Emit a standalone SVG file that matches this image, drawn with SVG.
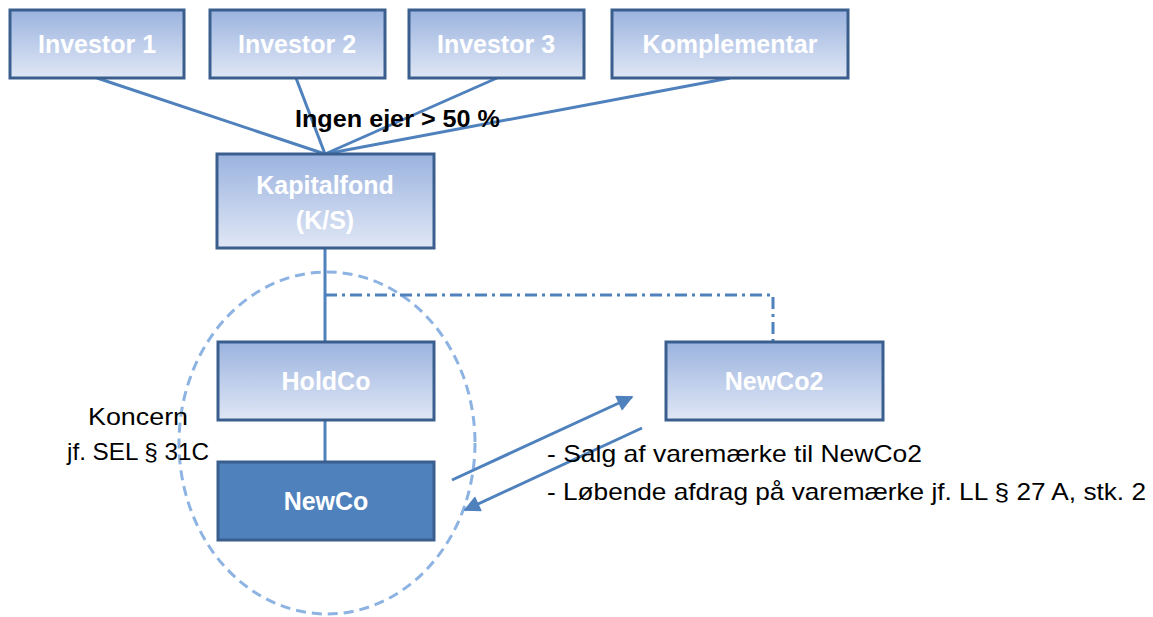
<svg xmlns="http://www.w3.org/2000/svg" width="1153" height="617" viewBox="0 0 1153 617">
  <style>
    .box { fill: url(#boxFill); stroke: #3a5f8e; stroke-width: 3; }
    .dark { fill: #4f81bd; stroke: #3a5f8e; stroke-width: 3; }
    .label { font-family: "Liberation Sans", Arial, sans-serif; font-weight: bold; font-size: 25px; fill: #ffffff; text-anchor: middle; }
    .link { stroke: #4f81bd; stroke-width: 3; fill: none; }
    .note { font-family: "Liberation Sans", Arial, sans-serif; font-size: 24px; fill: #000000; }
  </style>
  <defs>
    <linearGradient id="boxFill" x1="0" y1="0" x2="0" y2="1">
      <stop offset="0" stop-color="#9bb3df"/>
      <stop offset="1" stop-color="#e0e7f5"/>
    </linearGradient>
    <marker id="head" viewBox="0 0 10 10" refX="9" refY="5" markerWidth="6.5" markerHeight="5.5" orient="auto" markerUnits="strokeWidth">
      <path d="M0,0 L10,5 L0,10 z" fill="#4f81bd"/>
    </marker>
  </defs>

  <rect width="1153" height="617" fill="#ffffff"/>

  <!-- group boundary -->
  <ellipse cx="327" cy="443" rx="148" ry="171" fill="none" stroke="#8db3e2" stroke-width="3" stroke-dasharray="10,6"/>

  <g id="connectors">
    <line class="link" x1="97" y1="78" x2="325" y2="154"/>
    <line class="link" x1="296" y1="78" x2="325" y2="154"/>
    <line class="link" x1="497" y1="78" x2="325" y2="154"/>
    <line class="link" x1="730" y1="78" x2="325" y2="154"/>
    <line class="link" x1="325" y1="248" x2="325" y2="342"/>
    <line class="link" x1="325" y1="420" x2="325" y2="462"/>
    <polyline class="link" points="325,295 773,295 773,342" stroke-dasharray="12,5,3,5"/>
    <line class="link" x1="452" y1="480" x2="632" y2="397" marker-end="url(#head)"/>
    <line class="link" x1="642" y1="428" x2="465" y2="510" marker-end="url(#head)"/>
  </g>

  <g id="investor1">
    <rect class="box" x="10" y="10" width="174" height="68"/>
    <text class="label" x="97" y="53">Investor 1</text>
  </g>
  <g id="investor2">
    <rect class="box" x="210" y="10" width="175" height="68"/>
    <text class="label" x="297" y="53">Investor 2</text>
  </g>
  <g id="investor3">
    <rect class="box" x="409" y="10" width="175" height="68"/>
    <text class="label" x="496" y="53">Investor 3</text>
  </g>
  <g id="komplementar">
    <rect class="box" x="612" y="10" width="236" height="68"/>
    <text class="label" x="730" y="53">Komplementar</text>
  </g>

  <text id="ownership-note" x="295" y="127" font-family="'Liberation Sans', Arial, sans-serif" font-weight="bold" font-size="24" fill="#000000" textLength="205" lengthAdjust="spacingAndGlyphs">Ingen ejer &gt; 50 %</text>

  <g id="kapitalfond">
    <rect class="box" x="217" y="154" width="217" height="94"/>
    <text class="label" x="325" y="194">Kapitalfond</text>
    <text class="label" x="325" y="229">(K/S)</text>
  </g>
  <g id="holdco">
    <rect class="box" x="218" y="342" width="216" height="78"/>
    <text class="label" x="326" y="390">HoldCo</text>
  </g>
  <g id="newco">
    <rect class="dark" x="218" y="462" width="216" height="78"/>
    <text class="label" x="326" y="510">NewCo</text>
  </g>
  <g id="newco2">
    <rect class="box" x="666" y="342" width="217" height="78"/>
    <text class="label" x="774" y="390">NewCo2</text>
  </g>

  <g id="group-note">
    <text class="note" x="138" y="425" text-anchor="middle" textLength="100" lengthAdjust="spacingAndGlyphs">Koncern</text>
    <text class="note" x="138" y="460" text-anchor="middle" textLength="142" lengthAdjust="spacingAndGlyphs">jf. SEL § 31C</text>
  </g>

  <g id="transaction-note">
    <text class="note" x="547" y="462" textLength="375" lengthAdjust="spacingAndGlyphs">- Salg af varemærke til NewCo2</text>
    <text class="note" x="547" y="500" textLength="599" lengthAdjust="spacingAndGlyphs">- Løbende afdrag på varemærke jf. LL § 27 A, stk. 2</text>
  </g>
</svg>
